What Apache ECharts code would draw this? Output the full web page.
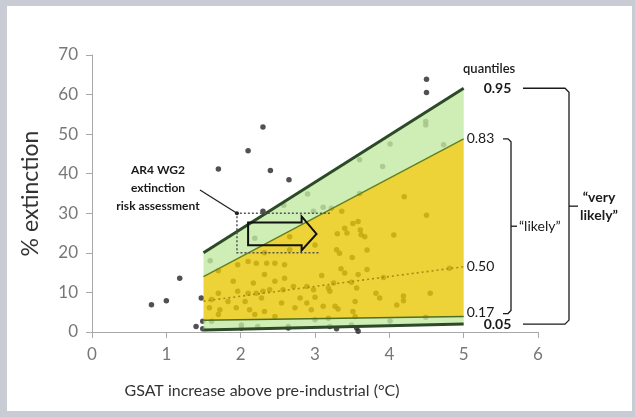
<!DOCTYPE html>
<html><head><meta charset="utf-8">
<script src="https://cdn.jsdelivr.net/npm/echarts@6/dist/echarts.min.js"></script>
<style>
html,body{margin:0;padding:0;background:#c9ccd5;width:635px;height:417px;overflow:hidden;}
#panel{position:absolute;left:7px;top:6px;width:625px;height:405px;background:#fff;}
#chart{position:absolute;left:0;top:0;width:635px;height:417px;}
</style></head><body>
<div id="panel"></div><div id="chart"></div>
<script>
// ---- data ----
const xTicks = [0, 1, 2, 3, 4, 5, 6];
const yTicks = [0, 10, 20, 30, 40, 50, 60, 70];
const quantileX = [1.5, 5];
const q05 = [0.5, 2.0];
const q17 = [3.0, 3.9];
const q50 = [7.8, 16.5];
const q83 = [14.0, 48.8];
const q95 = [20.0, 61.6];
const pointX = [0.80,1.00,1.18,1.70,2.10,2.30,2.40,2.65,1.40,1.47,4.50,4.50,2.30,2.98,2.90,2.58,2.19,1.59,1.70,3.60,
  3.91,4.01,4.49,4.49,4.73,3.11,3.22,3.60,4.20,4.50,3.36,3.51,3.58,3.40,3.61,3.62,3.43,4.06,3.29,3.33,
  3.50,3.70,3.30,3.67,2.66,3.00,2.66,2.32,3.35,3.70,3.09,3.25,3.49,3.58,3.40,3.82,3.87,4.19,4.19,4.10,
  4.55,4.81,3.92,2.98,3.18,2.80,3.00,2.89,2.71,3.20,3.56,3.54,2.73,2.95,3.11,3.31,3.51,3.00,3.18,3.29,
  3.56,2.64,2.89,3.27,3.54,4.49,3.20,3.58,3.49,4.01,1.96,2.10,2.21,2.35,2.46,2.59,2.32,2.59,1.90,2.17,
  2.46,1.70,1.96,2.10,2.21,2.30,2.39,2.57,1.61,1.83,2.06,2.28,2.55,1.58,1.72,1.94,2.12,2.32,1.70,2.19,
  2.46,1.49,1.61,2.01,2.23,2.01,2.64,1.49];
const pointY = [6.9,7.9,13.6,41.2,45.8,51.8,40.8,38.5,1.4,8.6,63.9,60.5,30.5,30.5,34.9,32.0,23.7,18.0,15.5,43.5,
  41.8,47.5,53.2,52.3,47.3,31.5,31.3,35.0,34.2,29.5,30.5,27.4,27.9,26.2,25.8,24.6,25.0,24.5,20.8,19.9,
  18.8,20.7,24.8,24.1,24.1,22.0,20.8,20.0,16.0,15.8,14.3,12.4,12.6,14.5,14.9,9.8,8.6,9.1,7.9,6.8,
  9.8,16.1,13.8,10.7,11.1,8.6,8.8,11.5,11.5,10.3,11.1,7.7,6.1,5.6,6.5,5.8,5.2,3.1,3.5,0.8,
  1.0,1.4,7.3,6.5,3.9,3.7,1.4,0.2,1.8,2.8,17.0,17.8,17.4,17.4,17.4,17.0,14.5,13.6,12.8,12.4,
  12.8,9.8,10.3,9.8,9.8,10.3,10.7,10.7,8.2,7.7,7.7,8.6,7.3,6.1,5.6,6.1,5.6,5.2,4.4,4.4,
  3.9,2.7,2.7,1.8,1.4,1.0,1.0,0.8];
const boxX = [3.2, 1.95, 1.95, 3.05];
const boxY = [30, 30, 20, 20];
const arrowX = [2.1, 2.82, 2.82, 3.02, 2.82, 2.82, 2.1];
const arrowY = [27.7, 27.7, 29.2, 24.8, 20.6, 21.9, 21.9];
const annotationLines = ['AR4 WG2', 'extinction', 'risk assessment'];

// ---- chart ----
const FONT = 'Lato';
const chart = echarts.init(document.getElementById('chart'), null, {renderer: 'canvas'});
const pts = pointX.map((x, i) => [x, pointY[i]]);
const line = arr => quantileX.map((x, i) => [x, arr[i]]);
const YEL = 'rgba(232,200,5,0.8)';
const GRN = 'rgba(194,234,163,0.8)';
// each band row: x0, lo0, hi0, x1, lo1, hi1, colorIndex
const bandColors = [GRN, YEL, GRN];
const bandRows = [[q05, q17], [q17, q83], [q83, q95]].map(([lo, hi], k) =>
  [quantileX[0], lo[0], hi[0], quantileX[1], lo[1], hi[1], k]);
function qline(name, data, color, width, type, bold, dist, dy) {
  return {type: 'line', name, data, symbol: 'none', z: 3, silent: true,
    lineStyle: {color, width, type},
    endLabel: {show: true, formatter: name, distance: dist, offset: [0, dy],
      fontFamily: FONT, fontSize: 14, color: '#1a1a1a', fontWeight: bold ? 'bold' : 'normal'}};
}
const axisCommon = {
  axisLine: {show: true, lineStyle: {color: '#a8a8a8', width: 1}},
  axisTick: {show: true, inside: false, length: 6, lineStyle: {color: '#a8a8a8'}},
  splitLine: {show: false},
};
chart.setOption({
  animation: false,
  backgroundColor: 'transparent',
  textStyle: {fontFamily: FONT},
  grid: {left: 92, right: 97, top: 55, bottom: 85},
  xAxis: Object.assign({type: 'value', min: xTicks[0], max: xTicks[xTicks.length - 1], interval: 1,
    axisLabel: {color: '#777', fontSize: 17, margin: 14, fontFamily: FONT}}, axisCommon),
  yAxis: Object.assign({type: 'value', min: yTicks[0], max: yTicks[yTicks.length - 1], interval: 10,
    axisLabel: {color: '#777', fontSize: 17, margin: 14, fontFamily: FONT},
    name: '% extinction', nameLocation: 'middle', nameGap: 50,
    nameTextStyle: {fontSize: 23, color: '#333', fontFamily: FONT}}, axisCommon),
  series: [
    {type: 'scatter', data: pts, symbolSize: 5.5, z: 1, itemStyle: {color: '#262626'}},
    {type: 'custom', z: 2, silent: true, data: bandRows, encode: {x: [0, 3], y: [1, 2, 4, 5]},
      renderItem: (params, api) => {
        const a = api.coord([api.value(0), api.value(1)]);
        const b = api.coord([api.value(3), api.value(4)]);
        const c = api.coord([api.value(3), api.value(5)]);
        const d = api.coord([api.value(0), api.value(2)]);
        return {type: 'polygon', shape: {points: [a, b, c, d]},
          style: {fill: bandColors[api.value(6)], stroke: null}};
      }},
    qline('0.05', line(q05), '#2c4a28', 3, 'solid', true, 20, 0),
    qline('0.17', line(q17), '#4f6e22', 1.5, 'solid', false, 3, -4),
    qline('0.50', line(q50), '#a38d18', 1.6, [2, 3], false, 3, 0),
    qline('0.83', line(q83), '#66801e', 1.5, 'solid', false, 3, 0),
    qline('0.95', line(q95), '#2c4a28', 3, 'solid', true, 20, 0),
  ]
});

const toPx = p => chart.convertToPixel({gridIndex: 0}, p);
const boxPts = boxX.map((x, i) => toPx([x, boxY[i]]));
const arrowPts = arrowX.map((x, i) => toPx([x, arrowY[i]]));
const p95 = toPx([5, q95[1]])[1], p05 = toPx([5, q05[1]])[1];
const p83 = toPx([5, q83[1]])[1], p17 = toPx([5, q17[1]])[1] - 3;
const midV = (p95 + p05) / 2, midL = (p83 + p17) / 2;
const corner = boxPts[1];
const txt = (x, y, text, size, weight, align, color) => ({type: 'text', x, y, z: 50,
  style: {text, fontFamily: FONT, fontSize: size, fontWeight: weight, fill: color || '#1a1a1a',
    align: align || 'left', verticalAlign: 'middle'}});
const stroke = {stroke: '#1a1a1a', lineWidth: 1.3, fill: 'none'};
chart.setOption({graphic: [
  {type: 'polyline', z: 40, shape: {points: boxPts}, style: {stroke: '#555', lineWidth: 1.5, lineDash: [2, 2], fill: 'none'}},
  {type: 'polygon', z: 41, shape: {points: arrowPts}, style: {stroke: '#111', lineWidth: 2, fill: 'none'}},
  {type: 'line', z: 41, shape: {x1: 200, y1: 190, x2: corner[0], y2: corner[1]}, style: {stroke: '#222', lineWidth: 1.3}},
  {type: 'circle', z: 41, shape: {cx: corner[0], cy: corner[1], r: 2}, style: {fill: '#222'}},
  txt(158, 170, annotationLines[0], 12, 'bold', 'center'),
  txt(158, 188, annotationLines[1], 12, 'bold', 'center'),
  txt(158, 206, annotationLines[2], 12, 'bold', 'center'),
  txt(463, 69, 'quantiles', 13, '600', 'left'),
  {type: 'polyline', z: 40, shape: {points: [[523, p95], [565, p95], [569, p95 + 4], [569, p05 - 4], [565, p05], [523, p05]]}, style: stroke},
  {type: 'line', z: 40, shape: {x1: 569, y1: midV, x2: 578, y2: midV}, style: stroke},
  {type: 'polyline', z: 40, shape: {points: [[503, p83], [508, p83], [511, p83 + 3], [511, p17 - 3], [508, p17], [503, p17]]}, style: stroke},
  {type: 'line', z: 40, shape: {x1: 511, y1: midL, x2: 517, y2: midL}, style: stroke},
  txt(519, midL, '\u201Clikely\u201D', 14, 'normal', 'left'),
  txt(599, midV - 9, '\u201Cvery', 14, 'bold', 'center'),
  txt(599, midV + 9, 'likely\u201D', 14, 'bold', 'center'),
  txt(262, 391, 'GSAT increase above pre-industrial (\u00B0C)', 16, 'normal', 'center', '#333'),
]});
</script>
</body></html>
